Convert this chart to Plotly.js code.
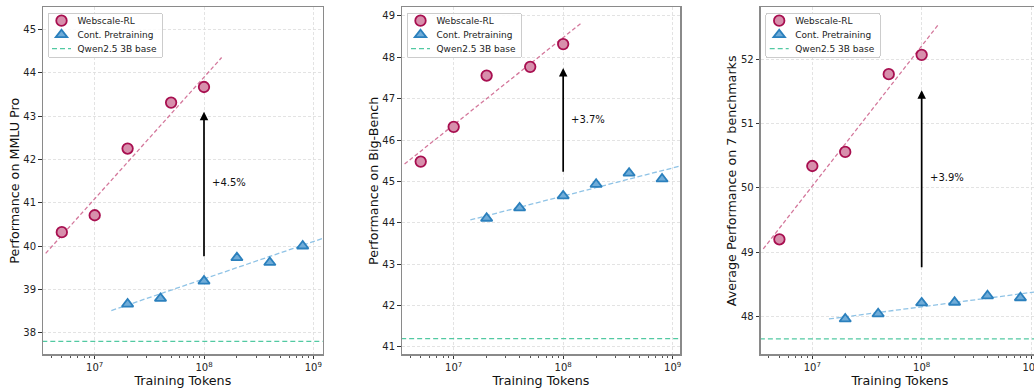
<!DOCTYPE html>
<html><head><meta charset="utf-8">
<script src="https://cdn.plot.ly/plotly-3.0.1.min.js"></script>
<style>html,body{margin:0;padding:0;overflow:hidden;background:#fff}#chart{width:1040px;height:388px}</style>
</head><body><div id="chart"></div>
<script>
// ---- data ----
const tokensRL = [5e6, 1e7, 2e7, 5e7, 1e8];
const tokensCP = [2e7, 4e7, 1e8, 2e8, 4e8, 8e8];
const mmluRL = [40.32, 40.71, 42.25, 43.31, 43.67];
const mmluCP = [38.66, 38.79, 39.19, 39.73, 39.62, 40.00];
const bbRL = [45.48, 46.32, 47.56, 47.77, 48.32];
const bbCP = [44.11, 44.36, 44.65, 44.93, 45.20, 45.06];
const avgRL = [49.20, 50.34, 50.56, 51.77, 52.07];
const avgCP = [47.96, 48.04, 48.21, 48.22, 48.32, 48.29];
const baseX = [2e6, 2e9];
const baseVals = [37.8, 41.2, 47.65];
const fitRLx = [3.56e6, 1.45e8];
const fitCPx = [1.42e7, 1.2e9];
const mmluFitRL = [39.83, 44.35], mmluFitCP = [38.51, 40.17];
const bbFitRL = [45.42, 48.82], bbFitCP = [44.07, 45.38];
const avgFitRL = [49.05, 52.56], avgFitCP = [47.96, 48.39];
const gainX = 1e8;
const gainFrom = [39.73, 45.20, 48.74];
const gainTo = [43.10, 47.74, 51.52];
const gainLabels = ['+4.5%', '+3.7%', '+3.9%'];
const gainLabelY = [41.46, 46.50, 50.16];
const yTitles = ['Performance on MMLU Pro', 'Performance on Big-Bench', 'Average Performance on 7 benchmarks'];
const xTitle = 'Training Tokens';
const names = ['Webscale-RL', 'Cont. Pretraining', 'Qwen2.5 3B base'];

const panels = [
  {rl: mmluRL, cp: mmluCP, fr: mmluFitRL, fc: mmluFitCP, yr: [37.5, 45.51], xr: [6.527, 9.086], dom: [43, 322.7], yt: [38,39,40,41,42,43,44,45]},
  {rl: bbRL, cp: bbCP, fr: bbFitRL, fc: bbFitCP, yr: [40.82, 49.21], xr: [6.528, 9.067], dom: [402, 680], yt: [41,42,43,44,45,46,47,48,49]},
  {rl: avgRL, cp: avgCP, fr: avgFitRL, fc: avgFitCP, yr: [47.41, 52.81], xr: [6.528, 9.073], dom: [760.7, 1039], yt: [48,49,50,51,52]}
];

const W = 1040, H = 388;
const FONT = 'DejaVu Sans, sans-serif';
const pinkFill = '#d78fac', pinkEdge = '#a80f50', pinkLine = '#d4789c';
const blueEdge = '#2b80bd', blueFill = '#70acd8', blueLine = '#8fc3e6';
const green = '#52c9a2';

const traces = [];
const layout = {
  width: W, height: H, margin: {l:0, r:0, t:0, b:0},
  paper_bgcolor: '#fff', plot_bgcolor: '#fff',
  font: {family: FONT, size: 10, color: '#222'},
  showlegend: true, annotations: []
};
const yTop = 7.3, yBot = 354.3;
panels.forEach((p, i) => {
  const s = i === 0 ? '' : String(i + 1);
  const xa = 'x' + s, ya = 'y' + s, lg = 'legend' + s;
  traces.push({x: fitRLx, y: p.fr, xaxis: xa, yaxis: ya, mode: 'lines', showlegend: false, hoverinfo: 'skip',
    line: {color: pinkLine, width: 1.3, dash: '4px,2.5px'}});
  traces.push({x: fitCPx, y: p.fc, xaxis: xa, yaxis: ya, mode: 'lines', showlegend: false, hoverinfo: 'skip',
    line: {color: blueLine, width: 1.3, dash: '5px,2.5px'}});
  traces.push({x: tokensRL, y: p.rl, xaxis: xa, yaxis: ya, mode: 'markers', name: names[0], legend: lg,
    marker: {symbol: 'circle', size: 10.5, color: pinkFill, line: {color: pinkEdge, width: 1.8}}});
  traces.push({x: tokensCP, y: p.cp, xaxis: xa, yaxis: ya, mode: 'markers', name: names[1], legend: lg,
    marker: {symbol: 'triangle-up', size: 10, color: blueFill, line: {color: blueEdge, width: 1.8}}});
  traces.push({x: baseX, y: [baseVals[i], baseVals[i]], xaxis: xa, yaxis: ya, mode: 'lines', name: names[2], legend: lg,
    line: {color: green, width: 1.3, dash: '5px,3px'}});
  const common = {showline: true, mirror: true, linecolor: '#8a8a8a', linewidth: 1.5,
    ticks: 'outside', ticklen: 3.5, tickwidth: 1, tickcolor: '#333',
    showgrid: true, gridcolor: '#dcdcdc', griddash: '3px,2px', gridwidth: 0.8, zeroline: false,
    tickfont: {family: FONT, size: 10, color: '#222'}};
  layout['xaxis' + s] = Object.assign({}, common, {
    type: 'log', range: p.xr, anchor: ya, domain: [p.dom[0] / W, p.dom[1] / W],
    tickvals: [1e7, 1e8, 1e9], ticktext: ['10<sup>7</sup>', '10<sup>8</sup>', '10<sup>9</sup>'],
    minor: {ticks: 'outside', ticklen: 2, tickcolor: '#555', showgrid: false,
      tickvals: [4e6,5e6,6e6,7e6,8e6,9e6,2e7,3e7,4e7,5e7,6e7,7e7,8e7,9e7,2e8,3e8,4e8,5e8,6e8,7e8,8e8,9e8]},
    title: {text: xTitle, font: {family: FONT, size: 12.7, color: '#111'}, standoff: 6}
  });
  layout['yaxis' + s] = Object.assign({}, common, {
    range: p.yr, anchor: xa, domain: [1 - yBot / H, 1 - yTop / H], tickvals: p.yt,
    title: {text: yTitles[i], font: {family: FONT, size: 12.7, color: '#111'}, standoff: 1}
  });
  layout[lg] = {x: (p.dom[0] + 4.5) / W, y: 1 - 12.7 / H, xanchor: 'left', yanchor: 'top',
    bgcolor: 'rgba(255,255,255,0.85)', bordercolor: '#cccccc', borderwidth: 1,
    font: {family: FONT, size: 9, color: '#222'}, itemwidth: 30, tracegroupgap: 0};
  layout.annotations.push({xref: xa, yref: ya, axref: xa, ayref: ya,
    x: Math.log10(gainX), y: gainTo[i], ax: Math.log10(gainX), ay: gainFrom[i],
    showarrow: true, arrowhead: 2, arrowsize: 1, arrowwidth: 1.7, arrowcolor: '#000', text: ''});
  layout.annotations.push({xref: xa, yref: ya, x: Math.log10(gainX) + 0.055, y: gainLabelY[i],
    text: gainLabels[i], showarrow: false, xanchor: 'left', yanchor: 'middle',
    font: {family: FONT, size: 10, color: '#111'}});
});

// tighten legend rows to match the reference's compact legend box
function fixLegends() {
  const gs = Array.from(document.querySelectorAll('#chart svg g')).filter(g => /^legend\d*$/.test(g.getAttribute('class') || ''));
  gs.forEach(lgEl => {
    lgEl.querySelectorAll('g.traces').forEach((it, k) => {
      it.setAttribute('transform', 'translate(0,' + (8 + 14 * k) + ')');
      const t = it.querySelector('text');
      if (t) t.setAttribute('x', 30);
      it.querySelectorAll('.legendpoints path').forEach(pth => pth.setAttribute('transform', 'translate(14,0)'));
      it.querySelectorAll('.legendlines path').forEach(pth => pth.setAttribute('d', 'M4.5,0h19'));
    });
    const bg = lgEl.querySelector('rect.bg');
    if (bg) { bg.setAttribute('width', 114.6); bg.setAttribute('height', 44.6); bg.setAttribute('rx', 3); bg.setAttribute('ry', 3); }
  });
}
const gd = document.getElementById('chart');
Plotly.newPlot(gd, traces, layout, {displayModeBar: false, staticPlot: true}).then(() => {
  fixLegends();
  gd.on('plotly_afterplot', fixLegends);
  setTimeout(fixLegends, 50);
  setTimeout(fixLegends, 300);
});
</script></body></html>
